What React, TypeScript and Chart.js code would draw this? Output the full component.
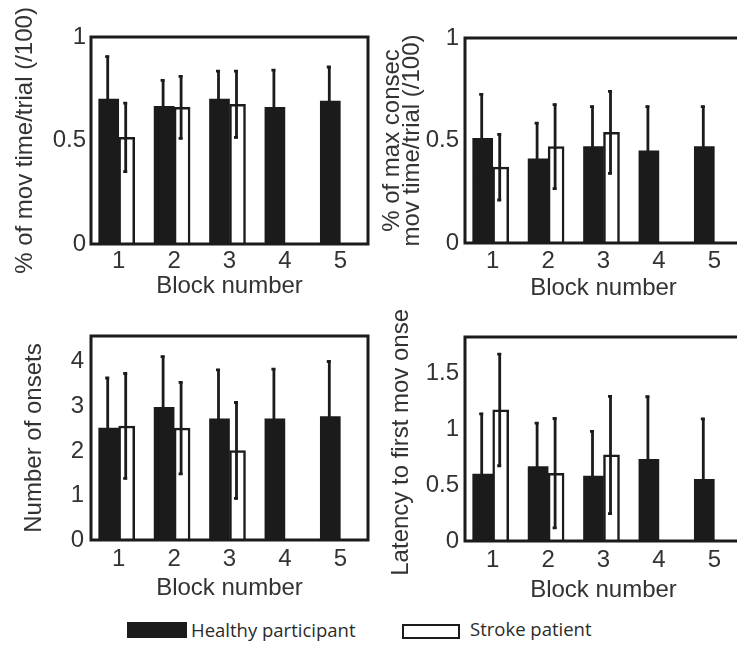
import React, { useEffect, useRef } from 'react';
import { Chart, registerables } from 'chart.js';

Chart.register(...registerables);

// ---------- data ----------
const BLOCKS = ['1', '2', '3', '4', '5'];
const SERIES_LABELS = ['Healthy participant', 'Stroke patient'];
const X_TITLE = 'Block number';

// % of movement time per trial
const MOV_TIME_HEALTHY = [0.70, 0.665, 0.70, 0.66, 0.69];
const MOV_TIME_HEALTHY_SD = [0.21, 0.13, 0.14, 0.185, 0.17];
const MOV_TIME_STROKE = [0.515, 0.66, 0.675, null, null];
const MOV_TIME_STROKE_SD = [0.17, 0.155, 0.165, null, null];
const MOV_TIME_TICKS = [0, 0.5, 1];

// % of max consecutive movement time per trial
const CONSEC_HEALTHY = [0.51, 0.41, 0.47, 0.45, 0.47];
const CONSEC_HEALTHY_SD = [0.22, 0.18, 0.2, 0.22, 0.2];
const CONSEC_STROKE = [0.37, 0.47, 0.54, null, null];
const CONSEC_STROKE_SD = [0.165, 0.21, 0.205, null, null];
const CONSEC_TICKS = [0, 0.5, 1];

// number of onsets
const ONSETS_HEALTHY = [2.51, 2.98, 2.72, 2.72, 2.77];
const ONSETS_HEALTHY_SD = [1.15, 1.16, 1.12, 1.14, 1.26];
const ONSETS_STROKE = [2.56, 2.51, 2.01, null, null];
const ONSETS_STROKE_SD = [1.2, 1.05, 1.1, null, null];
const ONSETS_TICKS = [0, 1, 2, 3, 4];

// latency to first movement onset
const LATENCY_HEALTHY = [0.6, 0.667, 0.583, 0.733, 0.554];
const LATENCY_HEALTHY_SD = [0.55, 0.4, 0.41, 0.57, 0.55];
const LATENCY_STROKE = [1.176, 0.608, 0.772, null, null];
const LATENCY_STROKE_SD = [0.51, 0.5, 0.535, null, null];
const LATENCY_TICKS = [0, 0.5, 1, 1.5];

// ---------- style ----------
const INK = '#1b1b1b';
const TEXT = '#333333';
const FONT_FAMILY = '"Liberation Sans", Arial, Helvetica, sans-serif';

const errorBarsAndFrame = {
  id: 'errorBarsAndFrame',
  afterDatasetsDraw(chart: any) {
    const ctx = chart.ctx;
    const yScale = chart.scales.y;
    ctx.save();
    ctx.strokeStyle = INK;
    ctx.lineWidth = 2.8;
    ctx.lineCap = 'butt';
    chart.data.datasets.forEach((ds: any, di: number) => {
      const meta = chart.getDatasetMeta(di);
      meta.data.forEach((el: any, i: number) => {
        const v = ds.data[i];
        const e = ds.errors ? ds.errors[i] : null;
        if (v == null || e == null) return;
        const x = el.x - 1;
        const yTop = yScale.getPixelForValue(v + e);
        const yBot = yScale.getPixelForValue(Math.max(0, v - e));
        ctx.beginPath();
        ctx.moveTo(x, yBot);
        ctx.lineTo(x, yTop);
        ctx.stroke();
        ctx.beginPath();
        ctx.moveTo(x - 2.5, yTop + 1);
        ctx.lineTo(x + 1.5, yTop + 1);
        ctx.moveTo(x - 2.5, yBot - 1);
        ctx.lineTo(x + 1.5, yBot - 1);
        ctx.stroke();
      });
    });
    const a = chart.chartArea;
    ctx.lineWidth = 3;
    ctx.strokeRect(a.left, a.top, a.right - a.left, a.bottom - a.top);
    ctx.restore();
  },
};

type PanelProps = {
  left: number; top: number; width: number; height: number;
  healthy: (number | null)[]; healthySd: (number | null)[];
  stroke: (number | null)[]; strokeSd: (number | null)[];
  ticks: number[]; max: number; yTitle: string | string[];
  yAxisW: number; xAxisH: number; padTop: number; padRight: number;
  xTickPad: number; xTitlePad: number; yTickPad: number; yTitlePad: number;
  yTitleLineHeight?: number;
};

function Panel(p: PanelProps) {
  const ref = useRef<HTMLCanvasElement>(null);
  useEffect(() => {
    if (!ref.current) return;
    const font = { family: FONT_FAMILY, size: 24 };
    const chart = new Chart(ref.current, {
      type: 'bar',
      data: {
        labels: BLOCKS,
        datasets: [
          {
            label: SERIES_LABELS[0], data: p.healthy as any, errors: p.healthySd,
            backgroundColor: INK, borderWidth: 0, barThickness: 20,
          } as any,
          {
            label: SERIES_LABELS[1], data: p.stroke as any, errors: p.strokeSd,
            backgroundColor: '#ffffff', borderColor: INK, borderWidth: 2.5, barThickness: 16,
          } as any,
        ],
      },
      options: {
        responsive: false,
        animation: false,
        devicePixelRatio: 1,
        layout: { padding: { left: 0, right: p.padRight, top: p.padTop, bottom: 0 } },
        plugins: { legend: { display: false }, tooltip: { enabled: false } },
        scales: {
          x: {
            grid: { display: false, drawTicks: false },
            border: { display: false },
            ticks: { font, color: TEXT, padding: p.xTickPad, maxRotation: 0, autoSkip: false },
            title: { display: true, text: X_TITLE, font, color: TEXT, padding: { top: 0, bottom: p.xTitlePad } },
            afterFit: (s: any) => { s.height = p.xAxisH; },
          },
          y: {
            min: 0, max: p.max,
            grid: { display: false, drawTicks: false },
            border: { display: false },
            ticks: { font, color: TEXT, padding: p.yTickPad, callback: (v: any) => String(v) },
            afterBuildTicks: (s: any) => { s.ticks = p.ticks.map((v) => ({ value: v })); },
            title: {
              display: true, text: p.yTitle, color: TEXT,
              font: { family: FONT_FAMILY, size: 24, lineHeight: p.yTitleLineHeight ?? 1.2 },
              padding: { top: p.yTitlePad, bottom: 0 },
            },
            afterFit: (s: any) => { s.width = p.yAxisW; },
          },
        },
      } as any,
      plugins: [errorBarsAndFrame],
    });
    return () => chart.destroy();
  }, []);
  return (
    <canvas
      ref={ref}
      width={p.width}
      height={p.height}
      style={{ position: 'absolute', left: p.left, top: p.top, width: p.width, height: p.height }}
    />
  );
}

export default function App() {
  const legendText: React.CSSProperties = {
    position: 'absolute', fontFamily: '"Open Sans", "Noto Sans", sans-serif', fontSize: 18.5,
    lineHeight: '18.5px', color: '#2b2b2b', whiteSpace: 'nowrap',
  };
  return (
    <div style={{ position: 'fixed', left: 0, top: 0, width: 737, height: 646, overflow: 'hidden', background: '#fff' }}>
      <Panel left={0} top={0} width={370} height={310}
        healthy={MOV_TIME_HEALTHY} healthySd={MOV_TIME_HEALTHY_SD}
        stroke={MOV_TIME_STROKE} strokeSd={MOV_TIME_STROKE_SD}
        ticks={MOV_TIME_TICKS} max={1} yTitle="% of mov time/trial (/100)"
        yAxisW={91} xAxisH={66} padTop={37} padRight={2}
        xTickPad={2.5} xTitlePad={9.5} yTickPad={5} yTitlePad={11} />
      <Panel left={370} top={0} width={380} height={310}
        healthy={CONSEC_HEALTHY} healthySd={CONSEC_HEALTHY_SD}
        stroke={CONSEC_STROKE} strokeSd={CONSEC_STROKE_SD}
        ticks={CONSEC_TICKS} max={1} yTitle={['% of max consec', 'mov time/trial (/100)']}
        yAxisW={95} xAxisH={67} padTop={38} padRight={8}
        xTickPad={3.5} xTitlePad={7.5} yTickPad={6} yTitlePad={13} yTitleLineHeight={0.82} />
      <Panel left={0} top={310} width={370} height={300}
        healthy={ONSETS_HEALTHY} healthySd={ONSETS_HEALTHY_SD}
        stroke={ONSETS_STROKE} strokeSd={ONSETS_STROKE_SD}
        ticks={ONSETS_TICKS} max={4.58} yTitle="Number of onsets"
        yAxisW={91} xAxisH={70} padTop={26} padRight={2}
        xTickPad={4.5} xTitlePad={7} yTickPad={7} yTitlePad={20} />
      <Panel left={370} top={310} width={380} height={300}
        healthy={LATENCY_HEALTHY} healthySd={LATENCY_HEALTHY_SD}
        stroke={LATENCY_STROKE} strokeSd={LATENCY_STROKE_SD}
        ticks={LATENCY_TICKS} max={1.83} yTitle="Latency to first mov onset"
        yAxisW={95} xAxisH={69} padTop={27} padRight={8}
        xTickPad={5} xTitlePad={5.5} yTickPad={6} yTitlePad={17} />
      {/* legend */}
      <div style={{ position: 'absolute', left: 127, top: 622, width: 60, height: 16, background: INK }} />
      <div style={{ ...legendText, left: 191, top: 621 }}>{SERIES_LABELS[0]}</div>
      <div style={{ position: 'absolute', left: 402, top: 624, width: 58, height: 15, background: '#fff', border: `2px solid ${INK}`, boxSizing: 'border-box' }} />
      <div style={{ ...legendText, left: 470, top: 620 }}>{SERIES_LABELS[1]}</div>
    </div>
  );
}
